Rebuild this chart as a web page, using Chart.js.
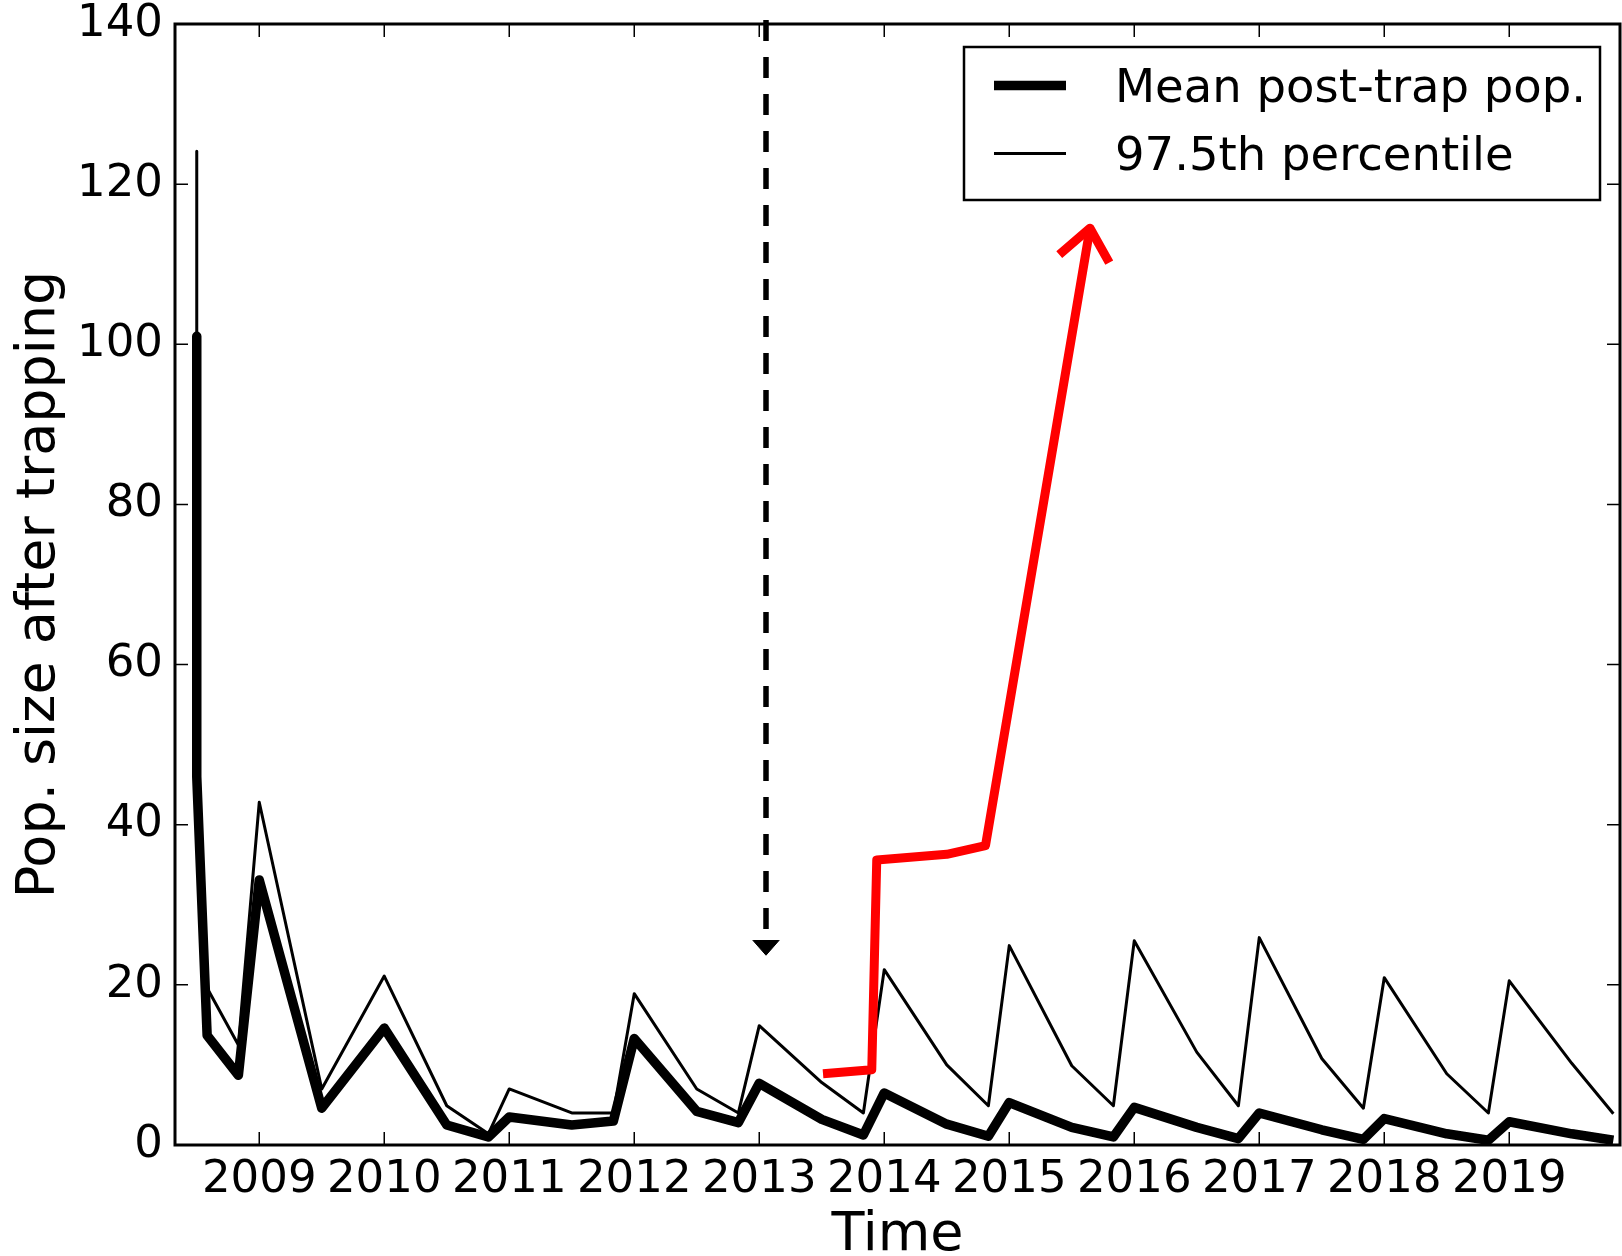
<!DOCTYPE html>
<html>
<head>
<meta charset="utf-8">
<title>Pop. size after trapping</title>
<script src="https://cdn.jsdelivr.net/npm/chart.js@4.4.1/dist/chart.umd.min.js"></script>
<style>
  html, body { margin: 0; padding: 0; background: #fff; }
  #wrap { width: 1622px; height: 1256px; }
</style>
</head>
<body>
<div id="wrap"><canvas id="chart" width="1622" height="1256"></canvas></div>
<script>
// ====== DATA ======
// sampling times (decimal years): Jan / Jul / Nov of each year
const times = [2008.5, 2008.5, 2008.583, 2008.833, 2009, 2009.5, 2010, 2010.5, 2010.833,
  2011, 2011.5, 2011.833, 2012, 2012.5, 2012.833, 2013, 2013.5, 2013.833,
  2014, 2014.5, 2014.833, 2015, 2015.5, 2015.833, 2016, 2016.5, 2016.833,
  2017, 2017.5, 2017.833, 2018, 2018.5, 2018.833, 2019, 2019.5, 2019.833];

const meanPop = [101, 46, 13.7, 8.7, 33.1, 4.6, 14.6, 2.5, 1.0,
  3.5, 2.5, 3.0, 13.3, 4.2, 2.8, 7.7, 3.2, 1.25,
  6.5, 2.6, 1.1, 5.3, 2.2, 1.0, 4.7, 2.2, 0.8,
  4.0, 1.9, 0.7, 3.3, 1.4, 0.6, 2.9, 1.4, 0.6];

const pct975 = [124.1, 48, 19.6, 12.5, 42.8, 7.0, 21.1, 4.9, 1.4,
  7.0, 4.0, 4.0, 18.9, 7.0, 4.0, 14.9, 7.8, 4.0,
  21.9, 10.0, 4.9, 24.9, 9.9, 4.9, 25.5, 11.6, 4.9,
  25.9, 10.8, 4.6, 20.9, 8.9, 4.0, 20.5, 10.2, 3.9];

// red annotation line and its open arrow head
const redTimes = [2013.51, 2013.90, 2013.94, 2014.50, 2014.81, 2015.646];
const redValues = [8.9, 9.4, 35.6, 36.3, 37.4, 114.5];
const redHeadTimes = [2015.40, 2015.646, 2015.80];
const redHeadValues = [111.2, 114.5, 110.2];

// dashed marker arrow (start of trapping change)
const markTime = 2013.054;
const markValues = [140.5, 25.6];
const markHeadTimes = [2012.947, 2013.054, 2013.161];
const markHeadValues = [25.6, 23.7, 25.6];

// axes
const yearTicks = [2009, 2010, 2011, 2012, 2013, 2014, 2015, 2016, 2017, 2018, 2019];
const popTicks = [0, 20, 40, 60, 80, 100, 120, 140];
const legendLabels = ["Mean post-trap pop.", "97.5th percentile"];

const pts = (xs, ys) => xs.map((x, i) => ({ x: x, y: ys[i] }));

// ====== FRAME, INWARD TICKS AND LEGEND ======
const framePlugin = {
  id: "frame",
  afterDraw(chart) {
    const { ctx, chartArea: a, scales } = chart;
    const tl = 13;
    ctx.save();
    ctx.strokeStyle = "#000";
    ctx.lineWidth = 1.5;
    ctx.beginPath();
    scales.x.ticks.forEach(t => {
      const px = scales.x.getPixelForValue(t.value);
      ctx.moveTo(px, a.bottom); ctx.lineTo(px, a.bottom - tl);
      ctx.moveTo(px, a.top); ctx.lineTo(px, a.top + tl);
    });
    scales.y.ticks.forEach(t => {
      const py = scales.y.getPixelForValue(t.value);
      ctx.moveTo(a.left, py); ctx.lineTo(a.left + tl, py);
      ctx.moveTo(a.right, py); ctx.lineTo(a.right - tl, py);
    });
    ctx.stroke();
    ctx.lineWidth = 3;
    ctx.strokeRect(a.left, a.top, a.right - a.left, a.bottom - a.top);

    // legend box
    const box = { x: 964, y: 47, w: 636, h: 153 };
    ctx.fillStyle = "#fff";
    ctx.fillRect(box.x, box.y, box.w, box.h);
    ctx.lineWidth = 2.5;
    ctx.strokeRect(box.x, box.y, box.w, box.h);
    const items = chart.data.datasets.filter(d => d.showInLegend);
    ctx.font = '46.5px "DejaVu Sans"';
    ctx.textBaseline = "alphabetic";
    ctx.textAlign = "left";
    items.forEach((d, i) => {
      const yLine = 85.5 + i * 68;
      ctx.strokeStyle = d.borderColor;
      ctx.lineWidth = d.borderWidth;
      ctx.beginPath();
      ctx.moveTo(994, yLine);
      ctx.lineTo(1066, yLine);
      ctx.stroke();
      ctx.fillStyle = "#000";
      ctx.fillText(d.label, 1115, yLine + 16.5);
    });
    ctx.restore();
  }
};

// ====== CHART ======
Chart.defaults.font.family = '"DejaVu Sans", "Liberation Sans", sans-serif';
Chart.defaults.color = "#000";

const lineBase = { showLine: true, pointRadius: 0, pointHoverRadius: 0, pointHitRadius: 0, fill: false, borderJoinStyle: "round" };

new Chart(document.getElementById("chart"), {
  type: "scatter",
  data: {
    datasets: [
      { ...lineBase, label: "red", data: pts(redTimes, redValues), borderColor: "#ff0000", borderWidth: 9 },
      { ...lineBase, label: "redHead", data: pts(redHeadTimes, redHeadValues), borderColor: "#ff0000", borderWidth: 9, clip: false },
      { ...lineBase, label: "mark", data: pts([markTime, markTime], markValues), borderColor: "#000", borderWidth: 5.5,
        borderDash: [21, 16], clip: false },
      { ...lineBase, label: "markHead", data: pts(markHeadTimes, markHeadValues), borderColor: "#000", borderWidth: 1,
        backgroundColor: "#000", fill: { target: { value: markHeadValues[0] }, above: "#000", below: "#000" } },
      { ...lineBase, label: legendLabels[0], showInLegend: true, data: pts(times, meanPop), borderColor: "#000", borderWidth: 9.5 },
      { ...lineBase, label: legendLabels[1], showInLegend: true, data: pts(times, pct975), borderColor: "#000", borderWidth: 3 }
    ]
  },
  options: {
    responsive: false,
    animation: false,
    devicePixelRatio: 1,
    layout: { padding: { left: 0, right: 2, top: 24, bottom: 0 } },
    plugins: {
      legend: { display: false },
      tooltip: { enabled: false }
    },
    scales: {
      x: {
        type: "linear",
        min: 2008.326,
        max: 2019.886,
        grid: { display: false, drawTicks: false },
        border: { display: false },
        afterBuildTicks: s => { s.ticks = yearTicks.map(v => ({ value: v })); },
        afterFit: s => { s.height = 111; s.paddingLeft = 0; s.paddingRight = 0; },
        ticks: { font: { size: 45 }, padding: 8, maxRotation: 0, autoSkip: false, callback: v => String(v) },
        title: { display: true, text: "Time", font: { size: 54, lineHeight: 0.74 }, padding: { top: 0, bottom: 0 } }
      },
      y: {
        min: 0,
        max: 140,
        grid: { display: false, drawTicks: false },
        border: { display: false },
        afterBuildTicks: s => { s.ticks = popTicks.map(v => ({ value: v })); },
        afterFit: s => { s.width = 175; s.paddingTop = 0; s.paddingBottom = 0; },
        ticks: { font: { size: 45 }, padding: 12, callback: v => String(v) },
        title: { display: true, text: "Pop. size after trapping", font: { size: 54 }, padding: { top: 8, bottom: 0 } }
      }
    }
  },
  plugins: [framePlugin]
});
</script>
</body>
</html>
